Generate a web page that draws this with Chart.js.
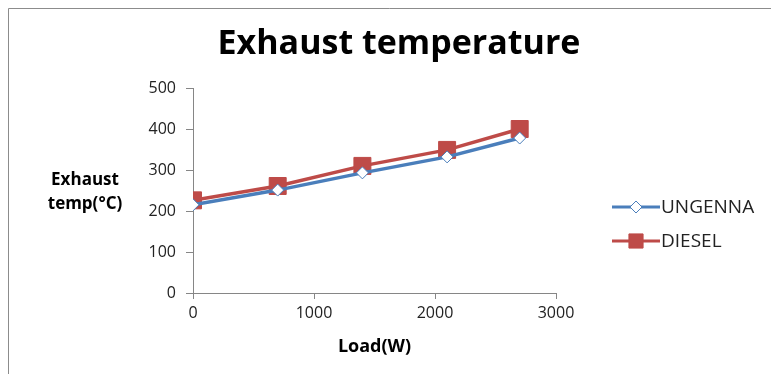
<!DOCTYPE html>
<html><head><meta charset="utf-8">
<script src="https://cdn.jsdelivr.net/npm/chart.js@4/dist/chart.umd.min.js"></script>
<style>html,body{margin:0;padding:0;background:#fff;}#wrap{width:771px;height:374px;position:relative;}</style>
</head><body><div id="wrap"><canvas id="c" width="771" height="374"></canvas></div>
<script>
const loads = [0, 700, 1400, 2100, 2700];
const ungenna = [215, 251, 293, 332, 378];
const diesel = [226, 261, 310, 349, 400];
const seriesNames = ['UNGENNA', 'DIESEL'];
const titleText = 'Exhaust temperature';
const yTitleLines = ['Exhaust', 'temp(°C)'];
const xTitleText = 'Load(W)';

const BLUE = '#4A7EBB', RED = '#BE4B48';
const FONT = "'Open Sans', 'Liberation Sans', sans-serif";

const deco = {
  id: 'deco',
  beforeDraw(chart) {
    const ctx = chart.ctx;
    ctx.save();
    ctx.fillStyle = '#fff';
    ctx.fillRect(0, 0, chart.width, chart.height);
    ctx.strokeStyle = '#8c8c8c';
    ctx.lineWidth = 1;
    ctx.beginPath();
    ctx.moveTo(8.5, 374); ctx.lineTo(8.5, 8.5); ctx.lineTo(771, 8.5);
    ctx.stroke();
    ctx.restore();
  },
  afterDraw(chart) {
    const ctx = chart.ctx;
    const ds = chart.data.datasets;
    ctx.save();
    ctx.fillStyle = '#000';
    ctx.font = "bold 34px " + FONT;
    ctx.textAlign = 'center';
    ctx.textBaseline = 'middle';
    ctx.fillText(titleText, 399, 44);
    ctx.font = "bold 17px " + FONT;
    ctx.fillText(yTitleLines[0], 85, 180);
    ctx.fillText(yTitleLines[1], 85, 204);
    const ys = [207, 241];
    ds.forEach((d, i) => {
      const y = ys[i];
      ctx.strokeStyle = d.borderColor;
      ctx.lineWidth = 3;
      ctx.beginPath(); ctx.moveTo(612, y); ctx.lineTo(660, y); ctx.stroke();
      ctx.fillStyle = d.pointBackgroundColor;
      ctx.strokeStyle = d.pointBorderColor;
      ctx.lineWidth = d.pointBorderWidth;
      Chart.helpers.drawPoint(ctx, {pointStyle: d.pointStyle, radius: i === 1 ? 10 : d.pointRadius, borderWidth: d.pointBorderWidth}, 636, y);
      ctx.fillStyle = '#222';
      ctx.font = "19px " + FONT;
      ctx.textAlign = 'left';
      ctx.textBaseline = 'middle';
      ctx.fillText(seriesNames[i], 661, y + 1);
    });
    ctx.restore();
  }
};

new Chart(document.getElementById('c'), {
  type: 'line',
  data: {
    datasets: [
      {
        label: seriesNames[0],
        data: loads.map((x, i) => ({x, y: ungenna[i]})),
        borderColor: BLUE, borderWidth: 3.5,
        pointStyle: 'rectRot', pointRadius: 6,
        pointBackgroundColor: '#fff', pointBorderColor: BLUE, pointBorderWidth: 1,
        tension: 0
      },
      {
        label: seriesNames[1],
        data: loads.map((x, i) => ({x, y: diesel[i]})),
        borderColor: RED, borderWidth: 3.5,
        pointStyle: 'rect', pointRadius: 12,
        pointBackgroundColor: RED, pointBorderColor: RED, pointBorderWidth: 1,
        tension: 0
      }
    ]
  },
  options: {
    responsive: false,
    animation: false,
    devicePixelRatio: 1,
    layout: { padding: { left: 0, right: 215, top: 88, bottom: 16 } },
    plugins: { legend: { display: false }, title: { display: false }, tooltip: { enabled: false } },
    scales: {
      x: {
        type: 'linear', min: 0, max: 3000,
        afterFit(s) { s.height = 65; },
        ticks: { stepSize: 1000, color: '#222', font: { family: FONT, size: 16 }, padding: 5, callback: v => String(v) },
        grid: { drawOnChartArea: false, tickLength: 6, color: '#868686' },
        border: { color: '#868686' },
        title: { display: true, text: xTitleText, color: '#000', font: { family: FONT, size: 18, weight: 'bold' }, padding: { top: 4, bottom: 0 } }
      },
      y: {
        min: 0, max: 500,
        afterFit(s) { s.width = 193; },
        ticks: { stepSize: 100, color: '#222', font: { family: FONT, size: 16 }, padding: 10, callback: v => String(v) },
        grid: { drawOnChartArea: false, tickLength: 7, color: '#868686' },
        border: { color: '#868686' }
      }
    }
  },
  plugins: [deco]
});
</script></body></html>
